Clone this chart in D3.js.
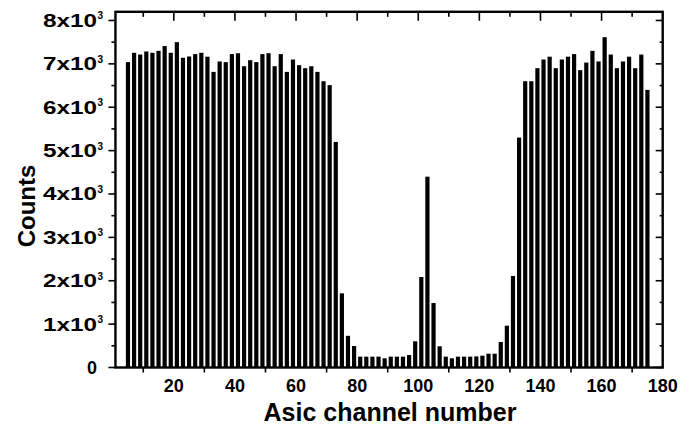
<!DOCTYPE html>
<html>
<head>
<meta charset="utf-8">
<script src="https://cdn.jsdelivr.net/npm/d3@7/dist/d3.min.js"></script>
<style>
  html, body { margin: 0; padding: 0; background: #fff; }
  svg { display: block; }
  text { font-family: "Liberation Sans", Arial, sans-serif; font-weight: bold; fill: #000; }
</style>
</head>
<body>
<svg id="chart" width="690" height="433"></svg>
<script>
// ---- data ----
const channels = [5,7,9,11,13,15,17,19,21,23,25,27,29,31,33,35,37,39,41,43,45,47,49,51,53,55,57,59,61,63,
  65,67,69,71,73,75,77,79,81,83,85,87,89,91,93,95,97,99,101,103,105,107,109,111,113,115,117,119,121,123,
  125,127,129,131,133,135,137,139,141,143,145,147,149,151,153,155,157,159,161,163,165,167,169,171,173,175];
const counts = [7040,7255,7215,7285,7255,7300,7410,7255,7500,7140,7170,7225,7255,7165,6815,7055,7040,7225,7245,6945,
  7085,7040,7225,7245,6945,7225,6815,7100,6970,6900,6945,6815,6600,6510,5200,1710,730,495,250,250,
  250,250,212,250,250,250,288,604,2086,4399,1487,489,250,212,250,250,250,255,272,318,
  318,588,964,2110,5300,6600,6600,6900,7100,7165,6900,7100,7165,7225,6855,7030,7300,7055,7615,7215,
  6900,7055,7165,6900,7215,6400];
const xTickLabels = [20,40,60,80,100,120,140,160,180];
const xOddTicks = [10,30,50,70,90,110,130,150,170];
const yTickValues = [0,1000,2000,3000,4000,5000,6000,7000,8000];
const yTickLabels = ["0","1x10","2x10","3x10","4x10","5x10","6x10","7x10","8x10"];
const yMinorValues = [500,1500,2500,3500,4500,5500,6500,7500];
const xTitle = "Asic channel number";
const yTitle = "Counts";

// ---- scales ----
const svg = d3.select("#chart");
const x = d3.scaleLinear().domain([0, 180]).range([112.7, 662.7]);
const y = d3.scaleLinear().domain([0, 8200]).range([367.5, 11.8]);
const xL = x(0.9), xR = x(180), yB = y(0), yT = y(8200);

// bars
const bw = 4.2;
svg.append("g").selectAll("rect").data(channels).join("rect")
  .attr("x", (c) => x(c) - bw / 2)
  .attr("width", bw)
  .attr("y", (c, i) => y(counts[i]))
  .attr("height", (c, i) => yB - y(counts[i]))
  .attr("fill", "#000");

// frame
svg.append("rect").attr("x", xL).attr("y", yT).attr("width", xR - xL).attr("height", yB - yT)
  .attr("fill", "none").attr("stroke", "#000").attr("stroke-width", 2.4);

const tickG = svg.append("g").attr("stroke", "#000").attr("stroke-width", 1.6);
// left ticks (outward)
yTickValues.forEach(v => tickG.append("line").attr("x1", xL - 7).attr("x2", xL).attr("y1", y(v)).attr("y2", y(v)));
yMinorValues.forEach(v => tickG.append("line").attr("x1", xL - 4).attr("x2", xL).attr("y1", y(v)).attr("y2", y(v)));
// right ticks (inward)
yTickValues.forEach(v => tickG.append("line").attr("x1", xR - 7).attr("x2", xR).attr("y1", y(v)).attr("y2", y(v)));
yMinorValues.forEach(v => tickG.append("line").attr("x1", xR - 3).attr("x2", xR).attr("y1", y(v)).attr("y2", y(v)));
// top ticks (inward)
xTickLabels.filter(v => v < 180).forEach(v => tickG.append("line").attr("x1", x(v)).attr("x2", x(v)).attr("y1", yT).attr("y2", yT + 9));
xOddTicks.forEach(v => tickG.append("line").attr("x1", x(v)).attr("x2", x(v)).attr("y1", yT).attr("y2", yT + 5));
// bottom ticks (outward)
xOddTicks.forEach(v => tickG.append("line").attr("x1", x(v)).attr("x2", x(v)).attr("y1", yB).attr("y2", yB + 5));

// x tick labels
svg.append("g").selectAll("text").data(xTickLabels).join("text")
  .attr("x", d => x(d)).attr("y", 392)
  .attr("text-anchor", "middle").attr("font-size", 18)
  .text(d => d);

// y tick labels
const yl = svg.append("g");
yTickValues.forEach((v, i) => {
  const t = yl.append("text").attr("x", 97).attr("y", y(v) + 6.5)
    .attr("text-anchor", "end").attr("font-size", 18).text(yTickLabels[i]);
  if (v !== 0) {
    t.attr("textLength", 54).attr("lengthAdjust", "spacingAndGlyphs");
    yl.append("text").attr("x", 97.5).attr("y", y(v) - 1)
      .attr("text-anchor", "start").attr("font-size", 10).text("3");
  }
});

// titles
svg.append("text").attr("x", 390).attr("y", 421).attr("text-anchor", "middle")
  .attr("font-size", 25).text(xTitle);
svg.append("text").attr("transform", "translate(35,206) rotate(-90)").attr("text-anchor", "middle")
  .attr("font-size", 24).text(yTitle);
</script>
</body>
</html>
